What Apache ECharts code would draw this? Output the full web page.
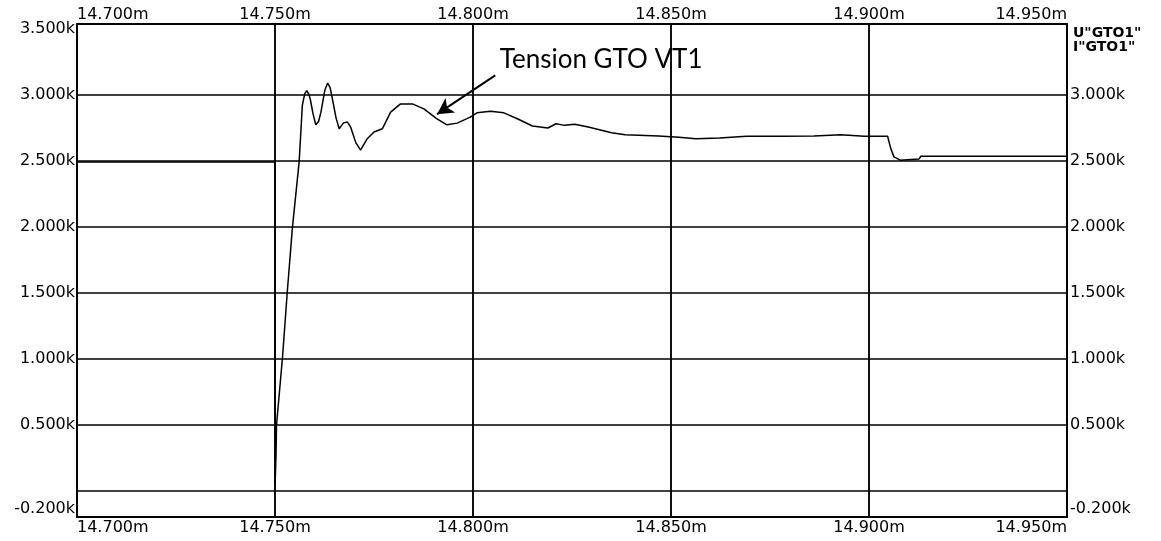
<!DOCTYPE html>
<html>
<head>
<meta charset="utf-8">
<script src="https://cdn.jsdelivr.net/npm/echarts@6/dist/echarts.min.js"></script>
<style>
html,body{margin:0;padding:0;background:#fff;}
#chart{width:1161px;height:541px;}
</style>
</head>
<body>
<div id="chart"></div>
<script>
// time in ms, voltage in V
var times = [14.700, 14.750, 14.750, 14.75025, 14.75038, 14.75189, 14.7531, 14.7544, 14.7561, 14.7569, 14.7575, 14.7580, 14.7585, 14.7589, 14.7596, 14.7603, 14.7610, 14.7616, 14.7626, 14.7633, 14.7639, 14.7645, 14.7654, 14.7662, 14.7673, 14.7683, 14.7691, 14.7704, 14.7716, 14.7733, 14.7750, 14.7771, 14.7792, 14.7817, 14.7847, 14.7876, 14.7909, 14.7934, 14.7960, 14.7993, 14.8010, 14.8044, 14.8078, 14.8112, 14.8150, 14.8189, 14.8210, 14.8231, 14.8257, 14.8291, 14.8350, 14.8384, 14.8469, 14.8520, 14.8563, 14.8622, 14.8691, 14.8776, 14.8861, 14.8929, 14.8988, 14.9047, 14.9055, 14.9063, 14.9079, 14.9126, 14.9131, 14.950];
var volts = [2494, 2494, 30, 256, 497, 1010, 1507, 1997, 2494, 2922, 3010, 3035, 3010, 2971, 2860, 2775, 2800, 2871, 3040, 3092, 3060, 2971, 2830, 2745, 2790, 2796, 2758, 2640, 2583, 2670, 2721, 2745, 2871, 2934, 2934, 2896, 2821, 2775, 2788, 2834, 2866, 2879, 2866, 2821, 2766, 2751, 2783, 2771, 2779, 2758, 2715, 2700, 2690, 2681, 2670, 2675, 2688, 2688, 2690, 2700, 2688, 2688, 2595, 2532, 2507, 2515, 2537, 2537];

var gridValues = [0, 500, 1000, 1500, 2000, 2500, 3000];
var leftLabelValues = [-200, 500, 1000, 1500, 2000, 2500, 3000, 3500];
var rightLabelValues = [-200, 500, 1000, 1500, 2000, 2500, 3000];
var seriesNames = ['U"GTO1"', 'I"GTO1"'];
var annotationText = 'Tension GTO VT1';
var annotationTextPos = [14.80663, 3271];
var arrowFrom = [14.80561, 3150];
var arrowTo = [14.79093, 2856];

var data = times.map(function (t, i) { return [t, volts[i]]; });

var labelFont = 'DejaVu Sans';
function kfmt(v) { return (v / 1000).toFixed(3) + 'k'; }
function mfmt(v) { return v.toFixed(3) + 'm'; }

var chart = echarts.init(document.getElementById('chart'));
var xAxisBase = {
  type: 'value', min: 14.7, max: 14.95, interval: 0.05,
  axisLine: {show: true, onZero: false, lineStyle: {color: '#000', width: 2}},
  axisTick: {show: false},
  splitLine: {show: true, lineStyle: {color: '#000', width: 1.5}},
  axisLabel: {formatter: mfmt, color: '#000', fontFamily: labelFont, fontSize: 16, margin: 1,
              alignMinLabel: 'left', alignMaxLabel: 'right'}
};
var yAxisBase = {
  type: 'value', min: -200, max: 3540,
  axisLine: {show: true, onZero: false, lineStyle: {color: '#000', width: 2}},
  axisTick: {show: false, customValues: gridValues},
  splitLine: {show: true, lineStyle: {color: '#000', width: 1.5}}
};
chart.setOption({
  animation: false,
  backgroundColor: '#fff',
  grid: {left: 77, right: 94, top: 24, bottom: 24, containLabel: false},
  xAxis: [
    Object.assign({}, xAxisBase, {position: 'top'}),
    Object.assign({}, xAxisBase, {position: 'bottom', axisLabel: Object.assign({}, xAxisBase.axisLabel, {margin: 3})})
  ],
  yAxis: [
    Object.assign({}, yAxisBase, {position: 'left',
      axisLabel: {customValues: leftLabelValues, formatter: kfmt, color: '#000', fontFamily: labelFont, fontSize: 16, margin: 2,
                  verticalAlignMinLabel: 'bottom'}}),
    Object.assign({}, yAxisBase, {position: 'right', splitLine: {show: false},
      axisLabel: {customValues: rightLabelValues, formatter: kfmt, color: '#000', fontFamily: labelFont, fontSize: 16, margin: 3,
                  verticalAlignMinLabel: 'bottom'}})
  ],
  graphic: [{
    type: 'text', left: 1073, top: 26,
    style: {text: seriesNames.join('\n'), fill: '#000', font: 'bold 14px "DejaVu Sans"', lineHeight: 14}
  }],
  series: [{
    type: 'line', name: seriesNames[0], xAxisIndex: 0, yAxisIndex: 0,
    data: data, showSymbol: false, symbol: 'none',
    lineStyle: {color: '#000', width: 1.5},
    markLine: {
      silent: true, symbol: ['none', 'arrow'], symbolSize: [13, 16],
      lineStyle: {color: '#000', width: 2, type: 'solid'},
      label: {show: false},
      data: [[{coord: arrowFrom}, {coord: arrowTo}]]
    },
    markPoint: {
      silent: true,
      data: [{coord: annotationTextPos, symbol: 'circle', symbolSize: 1,
        itemStyle: {color: 'rgba(0,0,0,0)'},
        label: {show: true, position: 'right', distance: 0, formatter: annotationText,
                color: '#000', fontFamily: 'Lato', fontSize: 26}}]
    }
  }]
});
</script>
</body>
</html>
